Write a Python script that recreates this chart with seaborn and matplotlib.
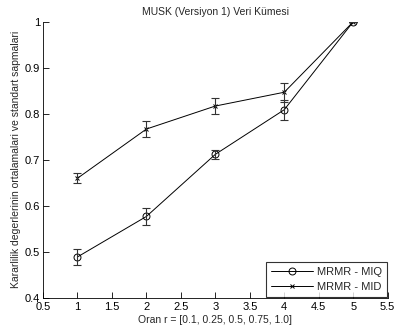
import matplotlib
matplotlib.use("Agg")
import matplotlib.pyplot as plt
import seaborn as sns
import pandas as pd
from matplotlib.lines import Line2D

x_vals = [1, 2, 3, 4, 5]
miq_mean = [0.489, 0.577, 0.712, 0.809, 1.0]
miq_std = [0.018, 0.018, 0.010, 0.022, 0.0]
mid_mean = [0.660, 0.767, 0.817, 0.847, 1.0]
mid_std = [0.011, 0.018, 0.018, 0.021, 0.0]
series_names = ["MRMR - MIQ", "MRMR - MID"]
xticks = [0.5, 1, 1.5, 2, 2.5, 3, 3.5, 4, 4.5, 5, 5.5]
xticklabels = ["0.5", "1", "1.5", "2", "2.5", "3", "3.5", "4", "4.5", "5", "5.5"]
yticks = [0.4, 0.5, 0.6, 0.7, 0.8, 0.9, 1.0]
yticklabels = ["0.4", "0.5", "0.6", "0.7", "0.8", "0.9", "1"]

sns.set_style("white")
plt.rcParams['font.family'] = ['Liberation Sans', 'DejaVu Sans']

fig = plt.figure(figsize=(3.98, 3.31), dpi=100)
ax = fig.add_axes([0.108, 0.1, 0.866, 0.834])

markers = ["o", "x"]
msizes = [5, 3.5]
for name, mean, std, mk, ms in zip(series_names, [miq_mean, mid_mean],
                                    [miq_std, mid_std], markers, msizes):
    df = pd.DataFrame({"x": x_vals, "y": mean})
    sns.lineplot(data=df, x="x", y="y", color="black", linewidth=0.7,
                 marker=mk, markersize=ms, markerfacecolor="none",
                 markeredgecolor="black", markeredgewidth=0.7, ax=ax)
    ax.errorbar(x_vals, mean, yerr=std, fmt="none", ecolor="#333333",
                elinewidth=0.8, capsize=3, capthick=0.8)

handles = [Line2D([], [], color="black", lw=0.7, marker=m, mfc="none", mec="black",
                  ms=s, mew=0.7) for m, s in zip(markers, msizes)]
leg = ax.legend(handles, series_names, loc="lower right", fontsize=8,
                frameon=True, fancybox=False, edgecolor="black",
                borderaxespad=0.1, handlelength=3.8, handletextpad=0.3,
                labelspacing=0.45, borderpad=0.45)
leg.get_frame().set_linewidth(0.8)

ax.set_xlim(0.5, 5.5)
ax.set_ylim(0.4, 1.0)
ax.set_xticks(xticks)
ax.set_xticklabels(xticklabels)
ax.set_yticks(yticks)
ax.set_yticklabels(yticklabels)
ax.tick_params(direction="in", length=4, width=0.6, labelsize=8,
               bottom=True, left=True, colors="black")
ax.tick_params(axis="x", pad=3)
ax.tick_params(axis="y", pad=2)
for s in ["top", "right"]:
    ax.spines[s].set_visible(False)
for s in ["left", "bottom"]:
    ax.spines[s].set_color("black")
    ax.spines[s].set_linewidth(0.6)

ax.set_xlabel("Oran r = [0.1, 0.25, 0.5, 0.75, 1.0]", fontsize=7.5, labelpad=2)
ax.set_ylabel("Kararlilik degerlerinin ortalamalari ve standart sapmalari", fontsize=7.5, labelpad=3)
ax.set_title("MUSK (Versiyon 1) Veri Kümesi", fontsize=7.5, pad=5)

fig.savefig("out.png", dpi=100)
